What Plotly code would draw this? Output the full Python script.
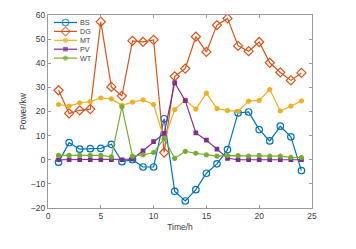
import plotly.graph_objects as go

t = list(range(1, 25))
BS = [-1, 7.1, 4.4, 4.6, 4.7, 6.4, -0.8, 0, -3, -3, 17, -13.1, -17.1, -12.4, -5.6, -1.7, 4.2, 19.4, 19.8, 12.5, 7.8, 13.9, 9.5, -4.5]
DG = [28.8, 19.2, 20.5, 21, 57.2, 30.2, 26.5, 49.3, 48.9, 49.7, 3, 34.6, 37.8, 51, 44.7, 55.8, 58.6, 47.2, 45, 48.8, 40.2, 36.2, 32.9, 36]
MT = [22.9, 22.2, 23.6, 24.1, 25.6, 25.2, 22.6, 23.9, 24.8, 22.9, 8.5, 20.8, 24.7, 21, 27.6, 21.2, 20.4, 20.1, 24.3, 24.6, 29.1, 20.2, 22.2, 24.4]
PV = [0, 0, 0, 0, 0, 0, 0, 0.3, 3.7, 7.5, 10.9, 31.9, 24.5, 11.1, 8.1, 4.4, 0.6, 0, 0, 0, 0, 0, 0, 0]
WT = [1.8, 1.8, 1.8, 1.8, 1.8, 1.2, 21.9, 1.5, 2, 3, 8.8, 0.6, 3.5, 2.7, 2, 1.5, 1.7, 1.7, 1.5, 1.8, 1.5, 1.5, 1, 0.9]

names = ["BS", "DG", "MT", "PV", "WT"]
values = [BS, DG, MT, PV, WT]
colors = ["#0072BD", "#D95319", "#EDB120", "#7E2F8E", "#77AC30"]
symbols = ["circle-open", "diamond-open", "circle", "square", "circle"]
sizes = [6.5, 7, 4, 3.5, 4]

TXT = "#404040"
AX = "#9a9a9a"
OFF = 8                      # default page margin around the plot div
W, H = 356 - OFF, 249 - OFF
L, R, T, B = 40, 44, 7, 41

fig = go.Figure()
for name, y, c, sym, sz in zip(names, values, colors, symbols, sizes):
    fig.add_trace(go.Scatter(x=t, y=y, name=name, mode="lines+markers", showlegend=False,
                             line=dict(color=c, width=1.2),
                             marker=dict(symbol=sym, size=sz, color=c,
                                         line=dict(color=c, width=1.2))))

# compact MATLAB-style legend (no box) drawn in an overlay axis measured in page pixels
px_x0, px_x1 = L + OFF, W - R + OFF
px_y0, px_y1 = H - B + OFF, T + OFF
leg_y0, leg_dy = 22.5, 8.9
for i, (name, c, sym, sz) in enumerate(zip(names, colors, symbols, sizes)):
    yy = leg_y0 + i * leg_dy
    fig.add_trace(go.Scatter(x=[54, 65.5, 77], y=[yy, yy, yy], xaxis="x2", yaxis="y2",
                             mode="lines+markers", showlegend=False, hoverinfo="skip",
                             line=dict(color=c, width=1.2),
                             marker=dict(symbol=sym, size=[0, sz, 0], color=c,
                                         line=dict(color=c, width=1.2))))
    fig.add_annotation(x=78.5, y=yy, xref="x2", yref="y2", text=name, showarrow=False,
                       xanchor="left", yanchor="middle", borderpad=0,
                       font=dict(size=7.2, color=TXT))

axis_common = dict(showline=True, linecolor=AX, linewidth=1, mirror="ticks",
                   ticks="inside", ticklen=3, tickcolor=AX, showgrid=False,
                   zeroline=False, automargin=False, tickfont=dict(size=8.5, color=TXT))
fig.update_layout(
    xaxis=dict(range=[0, 25], tickvals=[0, 5, 10, 15, 20, 25],
               title=dict(text="Time/h", font=dict(size=8.5, color=TXT), standoff=3),
               **axis_common),
    yaxis=dict(range=[-20, 60], tickvals=[-20, -10, 0, 10, 20, 30, 40, 50, 60],
               title=dict(text="Power/kw", font=dict(size=8.5, color=TXT), standoff=2),
               **axis_common),
    xaxis2=dict(overlaying="x", range=[px_x0, px_x1], visible=False, fixedrange=True),
    yaxis2=dict(overlaying="y", range=[px_y0, px_y1], visible=False, fixedrange=True),
    width=W, height=H, margin=dict(l=L, r=R, t=T, b=B),
    paper_bgcolor="white", plot_bgcolor="white",
    font=dict(family="Liberation Sans, Arial, sans-serif", size=8.5, color=TXT),
    showlegend=False,
)
fig.write_html("out.html")
